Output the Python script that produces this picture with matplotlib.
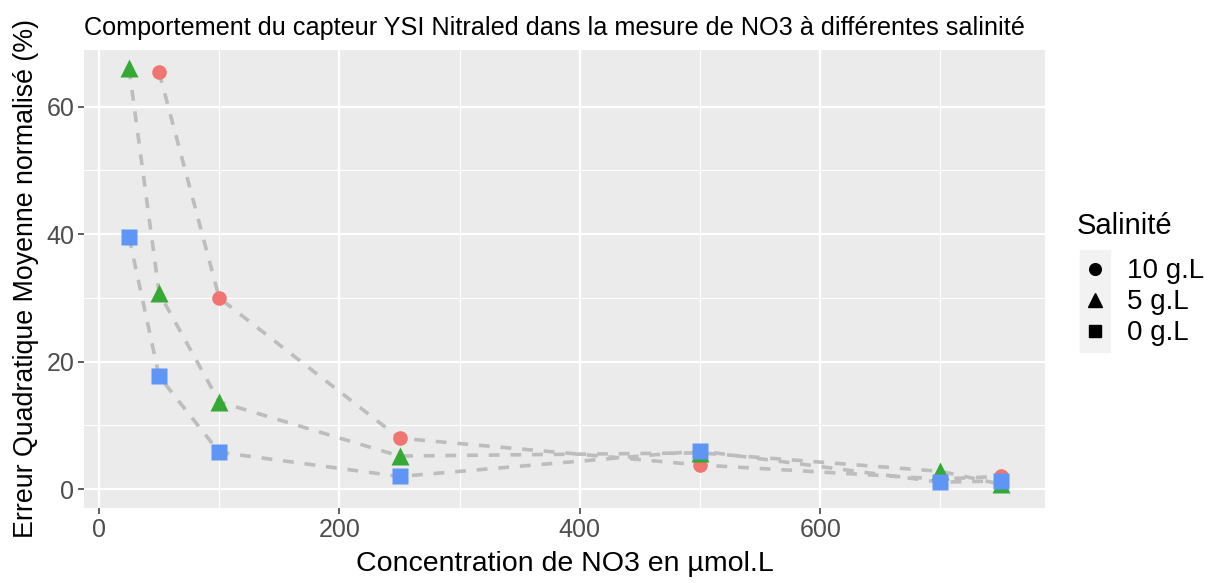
import numpy as np
import matplotlib.pyplot as plt
from matplotlib.lines import Line2D
from matplotlib.patches import Rectangle

plt.rcParams['font.family'] = ['Liberation Sans', 'DejaVu Sans']

# concentrations (µmol.L) et erreur normalisée (%) par salinité
conc = [25, 50, 100, 250, 500, 700, 750]
conc_10 = [50, 100, 250, 500, 700, 750]
err_10 = [65.4, 30.0, 8.0, 3.8, 1.6, 2.0]
err_5 = [66.0, 30.8, 13.7, 5.2, 5.7, 2.8, 0.8]
err_0 = [39.5, 17.7, 5.8, 2.0, 6.0, 1.1, 1.3]

series = [
    ("10 g.L", conc_10, err_10, "o", "#F07470", 10.5),
    ("5 g.L", conc, err_5, "^", "#35A935", 12.5),
    ("0 g.L", conc, err_0, "s", "#5F95F5", 11),
]

fig = plt.figure(figsize=(12.17, 5.83), dpi=100)
W, H = 1217, 583
ax = fig.add_axes([84 / W, 1 - 508 / H, (1045 - 84) / W, (508 - 50) / H])
ax.set_facecolor("#EBEBEB")
for s in ax.spines.values():
    s.set_visible(False)

# lignes pointillées d'abord, puis les points par-dessus
for name, x, y, m, c, ms in series:
    ax.plot(x, y, color="#BDBDBD", lw=2.6, ls=(0, (3, 3)), zorder=2)
for name, x, y, m, c, ms in series:
    ax.plot(x, y, ls="none", marker=m, color=c, ms=ms, mec="none", zorder=3)

ax.set_xlim(-12.5, 787)
ax.set_ylim(-2.95, 68.9)
ax.set_xticks([0, 200, 400, 600])
ax.set_yticks([0, 20, 40, 60])
ax.set_xticks([100, 300, 500, 700], minor=True)
ax.set_yticks([10, 30, 50], minor=True)
ax.grid(True, which="major", color="white", lw=1.6, zorder=0)
ax.grid(True, which="minor", color="white", lw=0.8, zorder=0)
ax.set_axisbelow(True)
ax.tick_params(which="major", length=4, width=1.1, color="#333333",
               labelsize=18, labelcolor="#4D4D4D", pad=3)
ax.tick_params(which="minor", length=0)

ax.set_xlabel("Concentration de NO3 en µmol.L", fontsize=20.5, labelpad=7)
ax.set_ylabel("Erreur Quadratique Moyenne normalisé (%)", fontsize=19.3, labelpad=5)
ax.set_title("Comportement du capteur YSI Nitraled dans la mesure de NO3 à différentes salinité",
             fontsize=18.2, loc="left", x=0.0, pad=11)

# légende des formes
fig.text(1077 / W, 1 - 226 / H, "Salinité", fontsize=21, va="center", ha="left")
fig.add_artist(Rectangle((1080 / W, 1 - 352 / H), 30 / W, 102 / H,
                         transform=fig.transFigure, color="#F2F2F2", zorder=1))
rows = [269, 300, 331]
for (name, x, y, m, c, ms), ry in zip(series, rows):
    fig.add_artist(Line2D([1095 / W], [1 - ry / H], marker=m, color="black",
                          ms=ms * 0.8, ls="none", transform=fig.transFigure, zorder=2))
    fig.text(1127 / W, 1 - (ry + 2) / H, name, fontsize=20, va="center", ha="left")

fig.savefig("out.png", dpi=100)
